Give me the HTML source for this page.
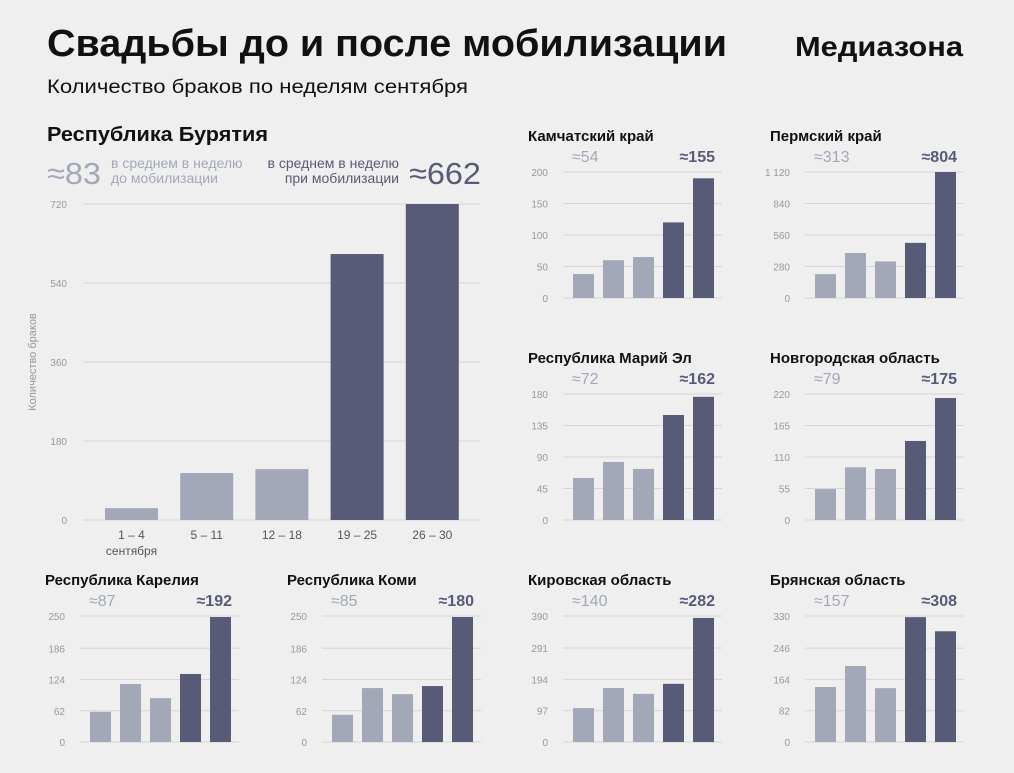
<!DOCTYPE html>
<html><head><meta charset="utf-8">
<style>
body{margin:0;background:#efefef;width:1014px;height:773px;overflow:hidden;font-family:"Liberation Sans","DejaVu Sans",sans-serif;}
svg{position:absolute;left:0;top:0}
</style></head>
<body>
<svg id="c" width="1014" height="773">
<text x="47" y="56" font-size="38" font-weight="bold" fill="#111" textLength="680" lengthAdjust="spacingAndGlyphs">Свадьбы до и после мобилизации</text>
<text x="795" y="56" font-size="28" font-weight="bold" fill="#111" textLength="168" lengthAdjust="spacingAndGlyphs">Медиазона</text>
<text x="47" y="93" font-size="19" fill="#111" textLength="421" lengthAdjust="spacingAndGlyphs">Количество браков по неделям сентября</text>
<text x="47" y="141" font-size="20" font-weight="bold" fill="#111" textLength="221" lengthAdjust="spacingAndGlyphs">Республика Бурятия</text>
<text x="47" y="184" font-size="31" fill="#a2a8b8" textLength="54" lengthAdjust="spacingAndGlyphs">≈83</text>
<text x="111" y="168" font-size="14" fill="#a2a8b8"><tspan x="111">в среднем в неделю</tspan><tspan x="111" dy="15">до мобилизации</tspan></text>
<text x="399" y="168" font-size="14" fill="#575b78" text-anchor="end"><tspan x="399">в среднем в неделю</tspan><tspan x="399" dy="15">при мобилизации</tspan></text>
<text x="409" y="184" font-size="31" fill="#575b78" textLength="72" lengthAdjust="spacingAndGlyphs">≈662</text>
<text transform="translate(36,362) rotate(-90)" font-size="11" fill="#999" text-anchor="middle">Количество браков</text>
</svg>
<script>
const bigCats=["1 – 4","5 – 11","12 – 18","19 – 25","26 – 30"];
const bigVals=[27,107,116,606,720];
const bigTicks=[0,180,360,540,720];
const regionNames=["Камчатский край","Пермский край","Республика Марий Эл","Новгородская область","Республика Карелия","Республика Коми","Кировская область","Брянская область"];
const regionBefore=["≈54","≈313","≈72","≈79","≈87","≈85","≈140","≈157"];
const regionDuring=["≈155","≈804","≈162","≈175","≈192","≈180","≈282","≈308"];
const regionTicks=[[0,50,100,150,200],[0,280,560,840,1120],[0,45,90,135,180],[0,55,110,165,220],[0,62,124,186,250],[0,62,124,186,250],[0,97,194,291,390],[0,82,164,246,330]];
const kamchatkaVals=[38,60,65,120,190];
const permVals=[212,400,325,490,1120];
const mariElVals=[60,83,73,150,176];
const novgorodVals=[54,92,89,138,213];
const kareliaVals=[60,115,87,135,248];
const komiVals=[54,107,95,111,248];
const kirovVals=[105,167,149,180,384];
const bryanskVals=[144,199,141,327,290];
const regionVals=[kamchatkaVals,permVals,mariElVals,novgorodVals,kareliaVals,komiVals,kirovVals,bryanskVals];
const LIGHT="#a2a8b8",DARK="#575b78";
const svg=document.getElementById('c');
const NS="http://www.w3.org/2000/svg";
function mk(tag,a,txt){const e=document.createElementNS(NS,tag);for(const k in a)e.setAttribute(k,a[k]);if(txt!==undefined)e.textContent=txt;svg.appendChild(e);return e;}
function fmt(v){return v>=1000?String(v).replace(/(\d)(\d{3})$/,"$1 $2"):String(v);}
(function(){
 const x0=83,x1=480,yTop=204,yBase=520,max=bigTicks[bigTicks.length-1];
 const y=v=>yBase-(v/max)*(yBase-yTop);
 bigTicks.forEach(t=>{
  const g=mk('line',{x1:x0,x2:x1,y1:y(t),y2:y(t),stroke:'#d6d6d6','stroke-width':1});
  
  const l=mk('text',{x:67,y:y(t)+4,'font-size':10,fill:'#999','text-anchor':'end'},fmt(t));
  
 });
 bigVals.forEach((v,i)=>{
  const bx=105+i*75.2;
  const r=mk('rect',{x:bx,y:y(v),width:53,height:yBase-y(v),fill:i<3?LIGHT:DARK});
  
  const t=mk('text',{x:bx+26.5,y:539,'font-size':12,fill:'#555','text-anchor':'middle'},bigCats[i]);
  
 });
 const s=mk('text',{x:131.5,y:555,'font-size':12,fill:'#555','text-anchor':'middle'},'сентября');
 
})();
const pos=[[563,172],[805,172],[563,394],[805,394],[80,616],[322,616],[563,616],[805,616]];
regionVals.forEach((vals,k)=>{
 const [gx,gt]=pos[k];const gb=gt+126;const gr=gx+159;
 const ticks=regionTicks[k];const max=ticks[ticks.length-1];
 const y=v=>gb-(v/max)*(gb-gt);
 const tt=mk('text',{x:gx-35,y:gt-31,'font-size':15,'font-weight':'bold',fill:'#111'},regionNames[k]);
 
 const b=mk('text',{x:gx+9,y:gt-10,'font-size':16,fill:LIGHT},regionBefore[k]);
 
 const d=mk('text',{x:gx+152,y:gt-10,'font-size':16,'font-weight':'bold',fill:DARK,'text-anchor':'end'},regionDuring[k]);
 
 ticks.forEach(t=>{
  const g=mk('line',{x1:gx,x2:gr,y1:y(t),y2:y(t),stroke:'#d6d6d6','stroke-width':1});
  
  const l=mk('text',{x:gx-15,y:y(t)+4,'font-size':10,fill:'#999','text-anchor':'end'},fmt(t));
  
 });
 vals.forEach((v,i)=>{
  const r=mk('rect',{x:gx+10+i*30,y:y(v),width:21,height:gb-y(v),fill:i<3?LIGHT:DARK});
  
 });
});
</script>
</body></html>
